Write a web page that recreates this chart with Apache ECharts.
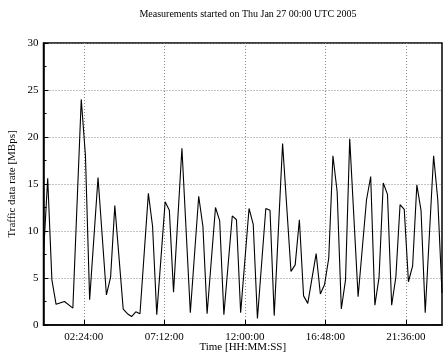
<!DOCTYPE html>
<html>
<head>
<meta charset="utf-8">
<script src="https://cdn.jsdelivr.net/npm/echarts@6/dist/echarts.min.js"></script>
<style>html,body{margin:0;padding:0;background:#fff;}#c{width:443px;height:356px;}</style>
</head>
<body>
<div id="c"></div>
<script>
var titleText = 'Measurements started on Thu Jan 27 00:00 UTC 2005';
var xName = 'Time [HH:MM:SS]';
var yName = 'Traffic data rate [MBps]';
// time of each sample in hours since start
var timesH = [0, 0.25, 0.5, 0.75, 1.25, 1.75, 2.25, 2.5, 2.75, 3.25, 3.75, 4, 4.25,
  4.75, 5, 5.25, 5.5, 5.75, 6.25, 6.5, 6.75, 7.25, 7.5, 7.75, 8.25, 8.75, 9.25, 9.5, 9.75,
  10.25, 10.5, 10.75, 11.25, 11.5, 11.75, 12.25, 12.5, 12.75, 13.25, 13.5, 13.75, 14.25,
  14.75, 15, 15.25, 15.5, 15.75, 16.25, 16.5, 16.75, 17, 17.25, 17.5, 17.75, 18, 18.25,
  18.75, 19.25, 19.5, 19.75, 20, 20.25, 20.5, 20.75, 21, 21.25, 21.5, 21.75, 22, 22.25,
  22.5, 22.75, 23.25, 23.5, 23.75];
var rates = [7.5, 15.6, 4.8, 2.2, 2.5, 1.8, 24.0, 18.0, 2.7, 15.7, 3.2, 5.1, 12.7,
  1.7, 1.2, 0.9, 1.4, 1.2, 14.0, 10.5, 1.1, 13.1, 12.2, 3.5, 18.8, 1.3, 13.7, 10.5, 1.2,
  12.5, 11.1, 1.1, 11.6, 11.2, 1.3, 12.4, 10.7, 0.7, 12.4, 12.2, 1.0, 19.3,
  5.7, 6.4, 11.2, 3.1, 2.3, 7.6, 3.3, 4.3, 7.1, 18.0, 14.2, 1.7, 4.8, 19.8,
  3.0, 13.3, 15.8, 2.1, 5.1, 15.1, 13.9, 2.1, 5.1, 12.8, 12.3, 4.6, 6.3, 14.9,
  12.2, 1.3, 18.0, 13.3, 3.4];
var xTicksH = [2.4, 7.2, 12, 16.8, 21.6];
var xMinH = 0, xMaxH = 23.75;
var yMin = 0, yMax = 30, yStep = 5;

function fmtHMS(h) {
  var s = Math.round(h * 3600);
  var hh = Math.floor(s / 3600), mm = Math.floor((s % 3600) / 60), ss = s % 60;
  function p(n) { return (n < 10 ? '0' : '') + n; }
  return p(hh) + ':' + p(mm) + ':' + p(ss);
}

var font = '"Liberation Serif", "DejaVu Serif", serif';
var data = timesH.map(function (t, i) { return [t, rates[i]]; });
var chart = echarts.init(document.getElementById('c'), null, { renderer: 'canvas' });
chart.setOption({
  animation: false,
  backgroundColor: '#ffffff',
  title: {
    text: titleText, left: 243, top: 4, textAlign: 'center',
    textStyle: { fontFamily: font, fontSize: 10, fontWeight: 'normal', color: '#000' }
  },
  grid: { left: 43.5, right: 1, top: 43, bottom: 31, show: true, borderColor: '#000', borderWidth: 1.5,
    backgroundColor: 'transparent', containLabel: false, outerBoundsMode: 'none' },
  xAxis: {
    type: 'value', min: xMinH, max: xMaxH,
    name: xName, nameLocation: 'middle', nameGap: 17, nameMoveOverlap: false,
    nameTextStyle: { fontFamily: font, fontSize: 11, color: '#000' },
    axisLine: { lineStyle: { color: '#000', width: 1.5 } },
    axisTick: { show: true, inside: true, length: 5, customValues: xTicksH, lineStyle: { color: '#000' } },
    axisLabel: { customValues: xTicksH, formatter: fmtHMS, fontFamily: font, fontSize: 11, color: '#000', margin: 7 },
    splitLine: { show: true, lineStyle: { color: '#888', type: [1, 2], width: 1 } }
  },
  yAxis: {
    type: 'value', min: yMin, max: yMax, interval: yStep,
    name: yName, nameLocation: 'middle', nameGap: 26, nameMoveOverlap: false,
    nameTextStyle: { fontFamily: font, fontSize: 11, color: '#000' },
    axisLine: { show: true, lineStyle: { color: '#000', width: 1.5 } },
    axisTick: { show: true, inside: true, length: 5, lineStyle: { color: '#000' } },
    minorTick: { show: true, splitNumber: 2, length: 3, lineStyle: { color: '#000' } },
    axisLabel: { fontFamily: font, fontSize: 11, color: '#000', margin: 5 },
    splitLine: { show: true, lineStyle: { color: '#888', type: [1, 2], width: 1 } }
  },
  series: [{
    type: 'line', data: data, showSymbol: false, symbol: 'none',
    lineStyle: { color: '#000', width: 1.1 }, clip: true
  }]
});
</script>
</body>
</html>
